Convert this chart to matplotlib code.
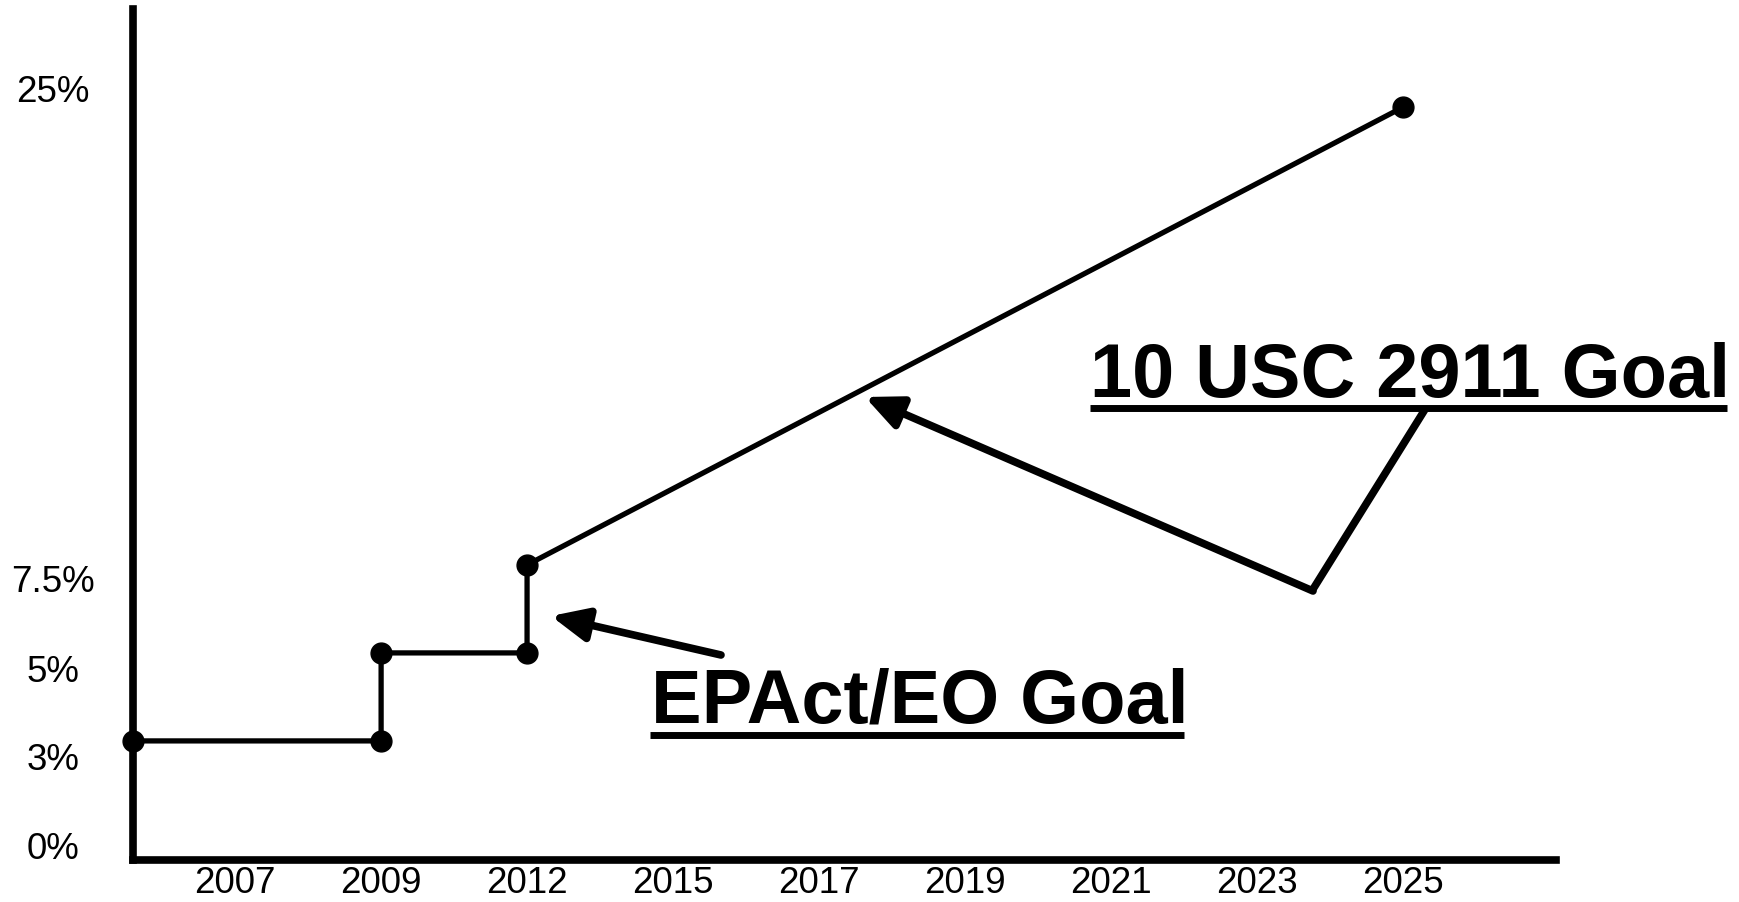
import matplotlib
matplotlib.use("Agg")
import matplotlib.pyplot as plt
from matplotlib.lines import Line2D
from matplotlib.transforms import ScaledTranslation
import numpy as np

plt.rcParams["font.family"] = ["Liberation Sans", "DejaVu Sans"]

# ── data ─────────────────────────────────────────────────────────────────────
years = ["2007", "2009", "2012", "2015", "2017", "2019", "2021", "2023", "2025"]
y_ticks = [0, 3, 5, 7.5, 25]
y_tick_labels = ["0%", "3%", "5%", "7.5%", "25%"]

# goal path; x is category position (first point sits on the y axis)
goal_x = [-0.7, 1, 1, 2, 2, 8]
goal_y = [3, 3, 5, 5, 7.5, 25]

# ── non-linear y axis: 0/3/5/7.5 evenly spaced, then a long stretch to 25 ─
Y_POS = [0, 1, 2, 3, 8.2]

def fwd(v):
    v = np.asarray(v, dtype=float)
    lo = v / 3.0
    hi = 8.2 + (v - 25) * (5.2 / 17.5)
    return np.where(v < 0, lo, np.where(v > 25, hi, np.interp(v, y_ticks, Y_POS)))

def inv(p):
    p = np.asarray(p, dtype=float)
    lo = p * 3.0
    hi = 25 + (p - 8.2) * (17.5 / 5.2)
    return np.where(p < 0, lo, np.where(p > 8.2, hi, np.interp(p, Y_POS, y_ticks)))

W, H = 1739, 902
fig = plt.figure(figsize=(W / 100, H / 100), dpi=100)
ax = fig.add_axes([133 / W, (H - 860) / H, (1556 - 133) / W, (860 - 9) / H])

ax.set_yscale("function", functions=(fwd, inv))
ax.set_xlim(-0.70, 9.05)
ax.set_ylim(-1.06, 28.76)

ax.plot(goal_x, goal_y, color="black", lw=3.8, marker="o", ms=15,
        clip_on=False, zorder=3)

for s in ("top", "right"):
    ax.spines[s].set_visible(False)
for s in ("left", "bottom"):
    ax.spines[s].set_linewidth(5.5)
    ax.spines[s].set_color("black")

ax.set_xticks(range(len(years)))
ax.set_xticklabels(years, fontsize=26.5)
ax.tick_params(axis="x", length=0, pad=4)

ax.set_yticks(y_ticks)
ax.set_yticklabels(y_tick_labels, fontsize=26.5)
ax.tick_params(axis="y", length=0, pad=57.6)
# labels in the original sit a little off their values
nudge_px = [-17, -16, -16, -14, 19]
for lab, dy in zip(ax.get_yticklabels(), nudge_px):
    lab.set_ha("center")
    lab.set_transform(lab.get_transform() +
                      ScaledTranslation(0, dy / 100, fig.dpi_scale_trans))

# ── annotations (figure pixel positions, origin bottom-left) ────────────────
def label(x, y, s):
    fig.text(x / W, y / H, s, fontsize=54.5, fontweight="bold",
             ha="left", va="baseline")

def underline(x0, x1, y):
    fig.add_artist(Line2D([x0 / W, x1 / W], [y / H, y / H], color="black",
                          lw=5, solid_capstyle="butt", transform=fig.transFigure))

def arrow(tail, head, lw):
    ax.annotate("", xy=head, xytext=tail, xycoords="figure pixels",
                textcoords="figure pixels",
                arrowprops=dict(arrowstyle="-|>,head_length=1.1,head_width=0.5",
                                lw=lw, color="black", shrinkA=0, shrinkB=0,
                                mutation_scale=20))

label(1090, H - 397, "10 USC 2911 Goal")
underline(1090, 1727, H - 408)
fig.add_artist(Line2D([1424 / W, 1315 / W], [(H - 411) / H, (H - 586) / H],
                      color="black", lw=5.5, transform=fig.transFigure))
arrow((1313, H - 591), (865, H - 397), 5.5)

label(651, H - 723, "EPAct/EO Goal")
underline(650, 1184, H - 735)
arrow((721, H - 655), (551, H - 616), 5.5)

fig.savefig("out.png", dpi=100)
